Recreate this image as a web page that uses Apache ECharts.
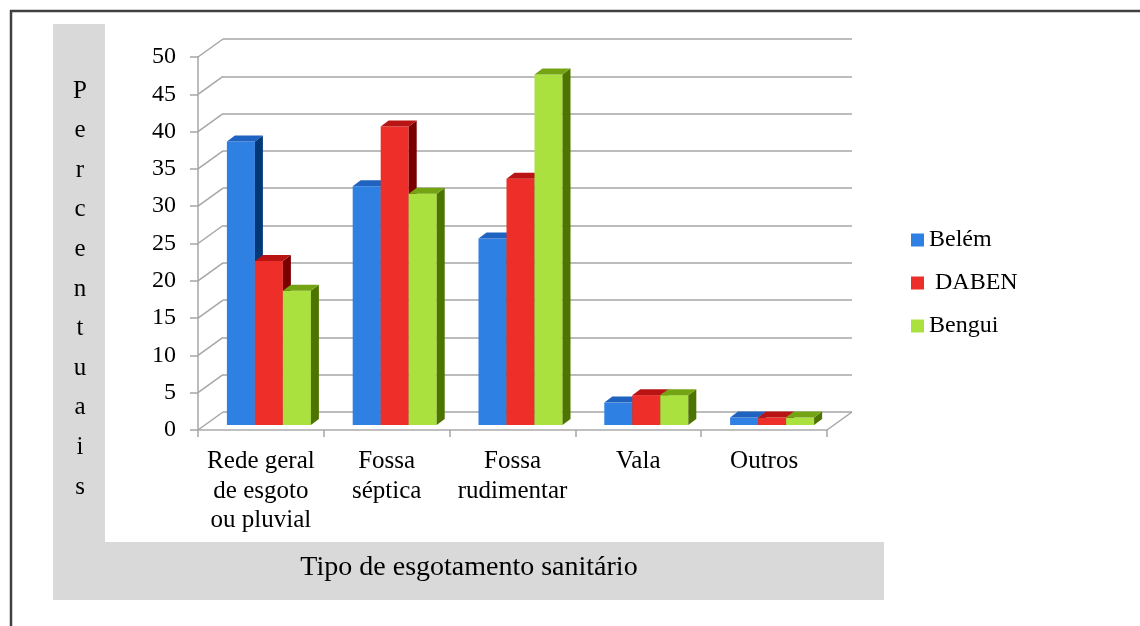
<!DOCTYPE html>
<html>
<head>
<meta charset="utf-8">
<script src="https://cdn.jsdelivr.net/npm/echarts@6/dist/echarts.min.js"></script>
<style>
  html, body { margin: 0; padding: 0; background: #fff; }
  #main { width: 1140px; height: 626px; }
</style>
</head>
<body>
<div id="main"></div>
<script>
// dados do gráfico
const categorias = ['Rede geral\nde esgoto\nou pluvial', 'Fossa\nséptica', 'Fossa\nrudimentar', 'Vala', 'Outros'];
const belem = [38, 32, 25, 3, 1];
const daben = [22, 40, 33, 4, 1];
const bengui = [18, 31, 47, 4, 1];
const ticksY = [0, 5, 10, 15, 20, 25, 30, 35, 40, 45, 50];

const FONTE = 'Liberation Serif';
const PROF = [25, -18];   // profundidade da parede do fundo
const LADO = [8, -6];     // profundidade de cada barra
const CINZA = '#a6a6a6';

// cores: frente, lado, topo
const cores = {
  'Belém': ['#2e80e2', '#003878', '#1f62bf'],
  ' DABEN': ['#ee2e28', '#7a0000', '#b81414'],
  'Bengui': ['#aae13e', '#4e7400', '#74a414']
};

function barra3d(nome, pos) {
  const c = cores[nome];
  return function (params, api) {
    const idx = api.value(0);
    const v = api.value(1);
    const topo = api.coord([idx, v]);
    const base = api.coord([idx, 0]);
    const banda = api.size([1, 0])[0];
    const w = banda * 0.2226;
    const x0 = topo[0] - 1.5 * w + pos * w;
    const x1 = x0 + w;
    const y0 = topo[1], y1 = base[1];
    const dx = LADO[0], dy = LADO[1];
    return {
      type: 'group',
      children: [
        { type: 'rect', shape: { x: x0, y: y0, width: w, height: y1 - y0 }, style: { fill: c[0] } },
        { type: 'polygon', shape: { points: [[x1, y0], [x1 + dx, y0 + dy], [x1 + dx, y1 + dy], [x1, y1]] }, style: { fill: c[1] } },
        { type: 'polygon', shape: { points: [[x0, y0], [x0 + dx, y0 + dy], [x1 + dx, y0 + dy], [x1, y0]] }, style: { fill: c[2] } }
      ]
    };
  };
}

const chart = echarts.init(document.getElementById('main'));
chart.setOption({
  animation: false,
  backgroundColor: '#ffffff',
  textStyle: { fontFamily: FONTE },
  graphic: [
    { type: 'rect', z: -5, shape: { x: 53, y: 24, width: 52, height: 576 }, style: { fill: '#d9d9d9' } },
    { type: 'rect', z: -5, shape: { x: 53, y: 542, width: 831, height: 58 }, style: { fill: '#d9d9d9' } },
    { type: 'line', shape: { x1: 10, y1: 11, x2: 1140, y2: 11 }, style: { stroke: '#404040', lineWidth: 2.5 } },
    { type: 'line', shape: { x1: 11, y1: 10, x2: 11, y2: 626 }, style: { stroke: '#404040', lineWidth: 2.5 } },
    {
      type: 'text', x: 80, y: 289,
      style: {
        text: 'P\ne\nr\nc\ne\nn\nt\nu\na\ni\ns',
        font: '25px "Liberation Serif"', fill: '#000',
        lineHeight: 39.6, align: 'center', verticalAlign: 'middle'
      }
    },
    {
      type: 'text', x: 469, y: 568,
      style: {
        text: 'Tipo de esgotamento sanitário',
        font: '28px "Liberation Serif"', fill: '#000',
        align: 'center', verticalAlign: 'middle'
      }
    }
  ],
  legend: {
    orient: 'vertical',
    left: 906,
    top: 223,
    itemWidth: 13,
    itemHeight: 13,
    itemGap: 19,
    icon: 'rect',
    textStyle: { fontFamily: FONTE, fontSize: 24, color: '#000', lineHeight: 24 },
    data: ['Belém', ' DABEN', 'Bengui']
  },
  grid: [
    { left: 198, top: 57, width: 629, height: 373 },   // frente (eixos)
    { left: 223, top: 39, width: 629, height: 373 },   // parede do fundo
    { left: 206, top: 52, width: 629, height: 373 }    // plano das barras
  ],
  xAxis: [
    {
      type: 'category', gridIndex: 0, data: categorias,
      axisLine: { lineStyle: { color: '#bfbfbf', width: 2 } },
      axisTick: { show: true, length: 7, lineStyle: { color: CINZA, width: 1.5 } },
      axisLabel: { fontFamily: FONTE, fontSize: 25, color: '#000', lineHeight: 29.5, margin: 17, interval: 0 }
    },
    {
      type: 'category', gridIndex: 1, data: categorias,
      axisLine: { show: false }, axisTick: { show: false }, axisLabel: { show: false }
    },
    {
      type: 'category', gridIndex: 2, data: categorias, show: false
    }
  ],
  yAxis: [
    {
      type: 'value', gridIndex: 0, min: 0, max: 50, interval: 5,
      axisLine: { show: true, lineStyle: { color: CINZA, width: 1.5 } },
      axisTick: { show: true, length: 8, lineStyle: { color: CINZA, width: 1.5 } },
      axisLabel: { fontFamily: FONTE, fontSize: 24, color: '#000', margin: 22 },
      splitLine: { show: false }
    },
    {
      type: 'value', gridIndex: 1, min: 0, max: 50, interval: 5,
      axisLine: { show: false }, axisTick: { show: false }, axisLabel: { show: false },
      splitLine: { lineStyle: { color: CINZA, width: 1.5 } }
    },
    {
      type: 'value', gridIndex: 2, min: 0, max: 50, show: false
    }
  ],
  series: [
    {
      // diagonais entre a frente e a parede do fundo
      type: 'custom', xAxisIndex: 0, yAxisIndex: 0, silent: true,
      data: ticksY.map(v => [0, v]),
      renderItem: function (params, api) {
        const p = api.coord([0, api.value(1)]);
        const meia = api.size([1, 0])[0] / 2;
        const x = p[0] - meia;
        const filhos = [{
          type: 'line',
          shape: { x1: x, y1: p[1], x2: x + PROF[0], y2: p[1] + PROF[1] },
          style: { stroke: CINZA, lineWidth: 1.5 }
        }];
        if (api.value(1) === 0) {
          const xr = api.coord([categorias.length - 1, 0])[0] + meia;
          filhos.push({
            type: 'line',
            shape: { x1: xr, y1: p[1], x2: xr + PROF[0], y2: p[1] + PROF[1] },
            style: { stroke: CINZA, lineWidth: 1.5 }
          });
        }
        return { type: 'group', children: filhos };
      }
    },
    {
      name: 'Belém', type: 'custom', xAxisIndex: 2, yAxisIndex: 2,
      itemStyle: { color: cores['Belém'][0] },
      data: belem.map((v, i) => [i, v]), renderItem: barra3d('Belém', 0)
    },
    {
      name: ' DABEN', type: 'custom', xAxisIndex: 2, yAxisIndex: 2,
      itemStyle: { color: cores[' DABEN'][0] },
      data: daben.map((v, i) => [i, v]), renderItem: barra3d(' DABEN', 1)
    },
    {
      name: 'Bengui', type: 'custom', xAxisIndex: 2, yAxisIndex: 2,
      itemStyle: { color: cores['Bengui'][0] },
      data: bengui.map((v, i) => [i, v]), renderItem: barra3d('Bengui', 2)
    }
  ]
});
</script>
</body>
</html>
